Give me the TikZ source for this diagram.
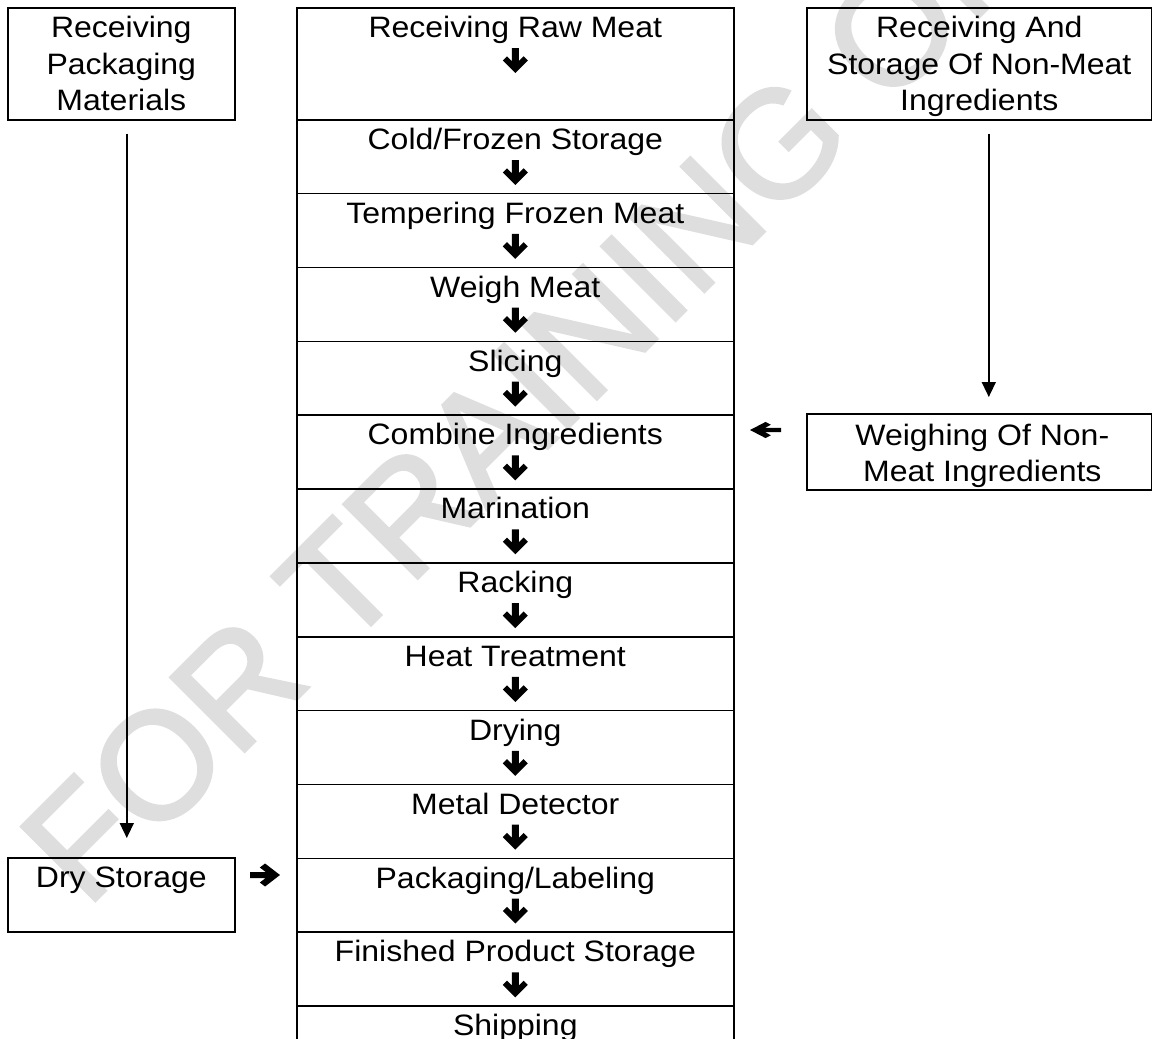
\documentclass[tikz,border=0pt]{standalone}
\usepackage{fontspec}
\setmainfont{Liberation Sans}[FakeStretch=1.085]
\newfontfamily\wmfont{Liberation Sans}[FakeBold=2]
\usetikzlibrary{calc,arrows.meta}
\newcommand\mkrow[4]{%
  \node[box, minimum width=437pt, minimum height=#3pt] (#1) at (296,#2) {};
  \node[txt] (#1t) at ($(#1.north)+(0,30.5)$) {#4};
}
\begin{document}
\begin{tikzpicture}[x=1pt,y=-1pt,
  box/.style={draw, line width=1.6pt, rectangle, inner sep=0pt, anchor=north west},
  txt/.style={font=\fontsize{29.5}{36.5}\selectfont, align=center, inner sep=0pt, anchor=base},
  conn/.style={line width=1.5pt, -{Triangle[length=15pt,width=14pt]}},
  darr/.pic={\fill (0,0) -- (-12.5,-12.5) -- (-8.3,-16.7) -- (-3.5,-11.9) -- (-3.5,-25) -- (3.5,-25) -- (3.5,-11.9) -- (8.3,-16.7) -- (12.5,-12.5) -- cycle;},
  rarr/.pic={\fill (0,0) -- (-11.5,-11.5) -- (-15.5,-7.5) -- (-11,-3) -- (-23,-3) -- (-23,3) -- (-11,3) -- (-15.5,7.5) -- (-11.5,11.5) -- cycle;},
]
\useasboundingbox (0,0) rectangle (1152,1039);

% watermark
\node[rotate=45, text=black!13, font=\wmfont\fontsize{152}{152}\selectfont, inner sep=0pt] (wm) at (592,330) {FOR TRAINING ONLY};

% main column
\mkrow{r0}{7}{112}{Receiving Raw Meat}
\mkrow{r1}{119}{73.85}{Cold/Frozen Storage}
\mkrow{r2}{192.85}{73.85}{Tempering Frozen Meat}
\mkrow{r3}{266.7}{73.85}{Weigh Meat}
\mkrow{r4}{340.55}{73.85}{Slicing}
\mkrow{r5}{414.4}{73.85}{Combine Ingredients}
\mkrow{r6}{488.25}{73.85}{Marination}
\mkrow{r7}{562.1}{73.85}{Racking}
\mkrow{r8}{635.95}{73.85}{Heat Treatment}
\mkrow{r9}{709.8}{73.85}{Drying}
\mkrow{r10}{783.65}{73.85}{Metal Detector}
\mkrow{r11}{857.5}{73.85}{Packaging/Labeling}
\mkrow{r12}{931.35}{73.85}{Finished Product Storage}
\mkrow{r13}{1005.2}{42}{Shipping}

\foreach \r in {r0,r1,r2,r3,r4,r5,r6,r7,r8,r9,r10,r11,r12}
  \pic at ($(\r.north)+(0,66)$) {darr};

% left boxes (base anchor of a multi-line node = baseline of its last line)
\node[box, minimum width=227pt, minimum height=112pt] (pkg) at (7,7) {};
\node[txt] (pkgt) at ($(pkg.north)+(0,103.5)$) {Receiving\\Packaging\\Materials};
\node[box, minimum width=227pt, minimum height=74pt] (dry) at (7,857) {};
\node[txt] (dryt) at ($(dry.north)+(0,30)$) {Dry Storage};

% right boxes
\node[box, minimum width=345pt, minimum height=112pt] (nonm) at (806,7) {};
\node[txt] (nonmt) at ($(nonm.north)+(0,103.5)$) {Receiving And\\Storage Of Non-Meat\\Ingredients};
\node[box, minimum width=345pt, minimum height=76pt] (weigh) at (806,413) {};
\node[txt] (weight) at ($(weigh.north)+(3,68.5)$) {Weighing Of Non-\\Meat Ingredients};

% connectors
\draw[conn, shorten <=13pt, shorten >=19pt] ([xshift=5.5pt]pkg.south) -- ([xshift=5.5pt]dry.north);
\draw[conn, shorten <=13pt, shorten >=16pt] ([xshift=9.5pt]nonm.south) -- ([xshift=9.5pt]weigh.north);

% side arrows
\pic[xscale=-1.35, yscale=0.7] at (750,430) {rarr};
\pic[xscale=1.3] at (280,875) {rarr};
\end{tikzpicture}
\end{document}
